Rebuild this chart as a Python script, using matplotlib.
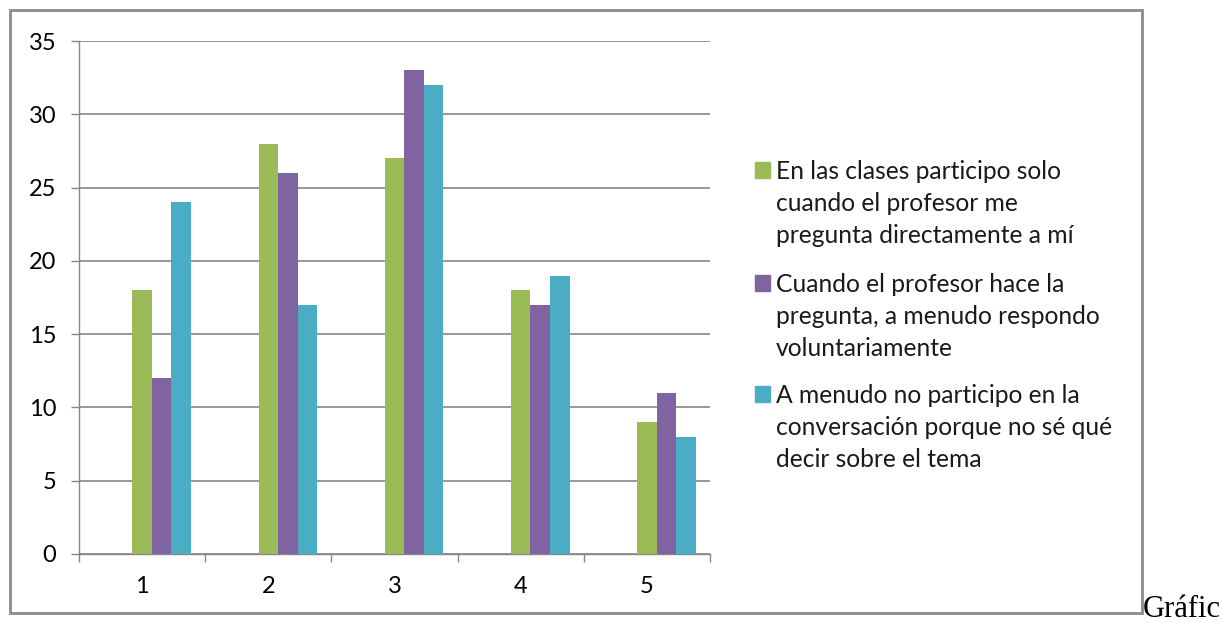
import matplotlib.pyplot as plt
from matplotlib.patches import Rectangle
from matplotlib.ticker import MultipleLocator, FixedLocator

categories = [1, 2, 3, 4, 5]
series_lines = [
    ['En las clases participo solo', 'cuando el profesor me', 'pregunta directamente a mí'],
    ['Cuando el profesor hace la', 'pregunta, a menudo respondo', 'voluntariamente'],
    ['A menudo no participo en la', 'conversación porque no sé qué', 'decir sobre el tema'],
]
solo_pregunta = [18, 28, 27, 18, 9]
voluntario = [12, 26, 33, 17, 11]
no_participo = [24, 17, 32, 19, 8]
colors = ['#9BBB59', '#8064A2', '#4BACC6']

plt.rcParams['font.family'] = ['Lato', 'DejaVu Sans']

W, H = 1222, 623
fig = plt.figure(figsize=(W / 100, H / 100), dpi=100)
ax = fig.add_axes([79 / W, 1 - 554 / H, (710 - 79) / W, (554 - 41) / H])

w = 0.155
for k, (vals, c) in enumerate(zip([solo_pregunta, voluntario, no_participo], colors)):
    xs = [x + k * w for x in categories]
    ax.bar(xs, vals, width=w, color=c, zorder=3)

ax.set_xlim(0.5, 5.5)
ax.set_ylim(0, 35)
ax.yaxis.set_major_locator(MultipleLocator(5))
ax.grid(axis='y', color='#868686', linewidth=1.2, zorder=0)
ax.set_xticks(categories)
ax.xaxis.set_minor_locator(FixedLocator([0.5, 1.5, 2.5, 3.5, 4.5, 5.5]))
ax.tick_params(axis='x', which='major', length=0, pad=16, labelsize=17)
ax.tick_params(axis='x', which='minor', length=6, color='#868686', width=1)
ax.tick_params(axis='y', length=5.5, color='#868686', width=1, pad=11, labelsize=17)
for s in ['top', 'right']:
    ax.spines[s].set_visible(False)
for s in ['left', 'bottom']:
    ax.spines[s].set_color('#868686')
    ax.spines[s].set_linewidth(1)

# legend drawn by hand: square next to the first line of each entry
first_baselines = [179, 292, 403]
for lines, c, b in zip(series_lines, colors, first_baselines):
    fig.add_artist(Rectangle((755 / W, 1 - (b - 1) / H), 15 / W, 16 / H,
                             transform=fig.transFigure, color=c))
    for i, line in enumerate(lines):
        fig.text(776 / W, 1 - (b + 32 * i) / H, line, fontsize=17.7,
                 va='baseline', ha='left', color='#1a1a1a')

fig.add_artist(Rectangle((10 / W, 1 - 613 / H), 1132 / W, 603 / H,
                         transform=fig.transFigure, fill=False,
                         edgecolor='#8c8c8c', linewidth=2))
fig.text(1143 / W, 1 - 617 / H, 'Gráfic', family='Liberation Serif',
         fontsize=22, va='baseline', ha='left')

fig.savefig('out.png', dpi=100)
